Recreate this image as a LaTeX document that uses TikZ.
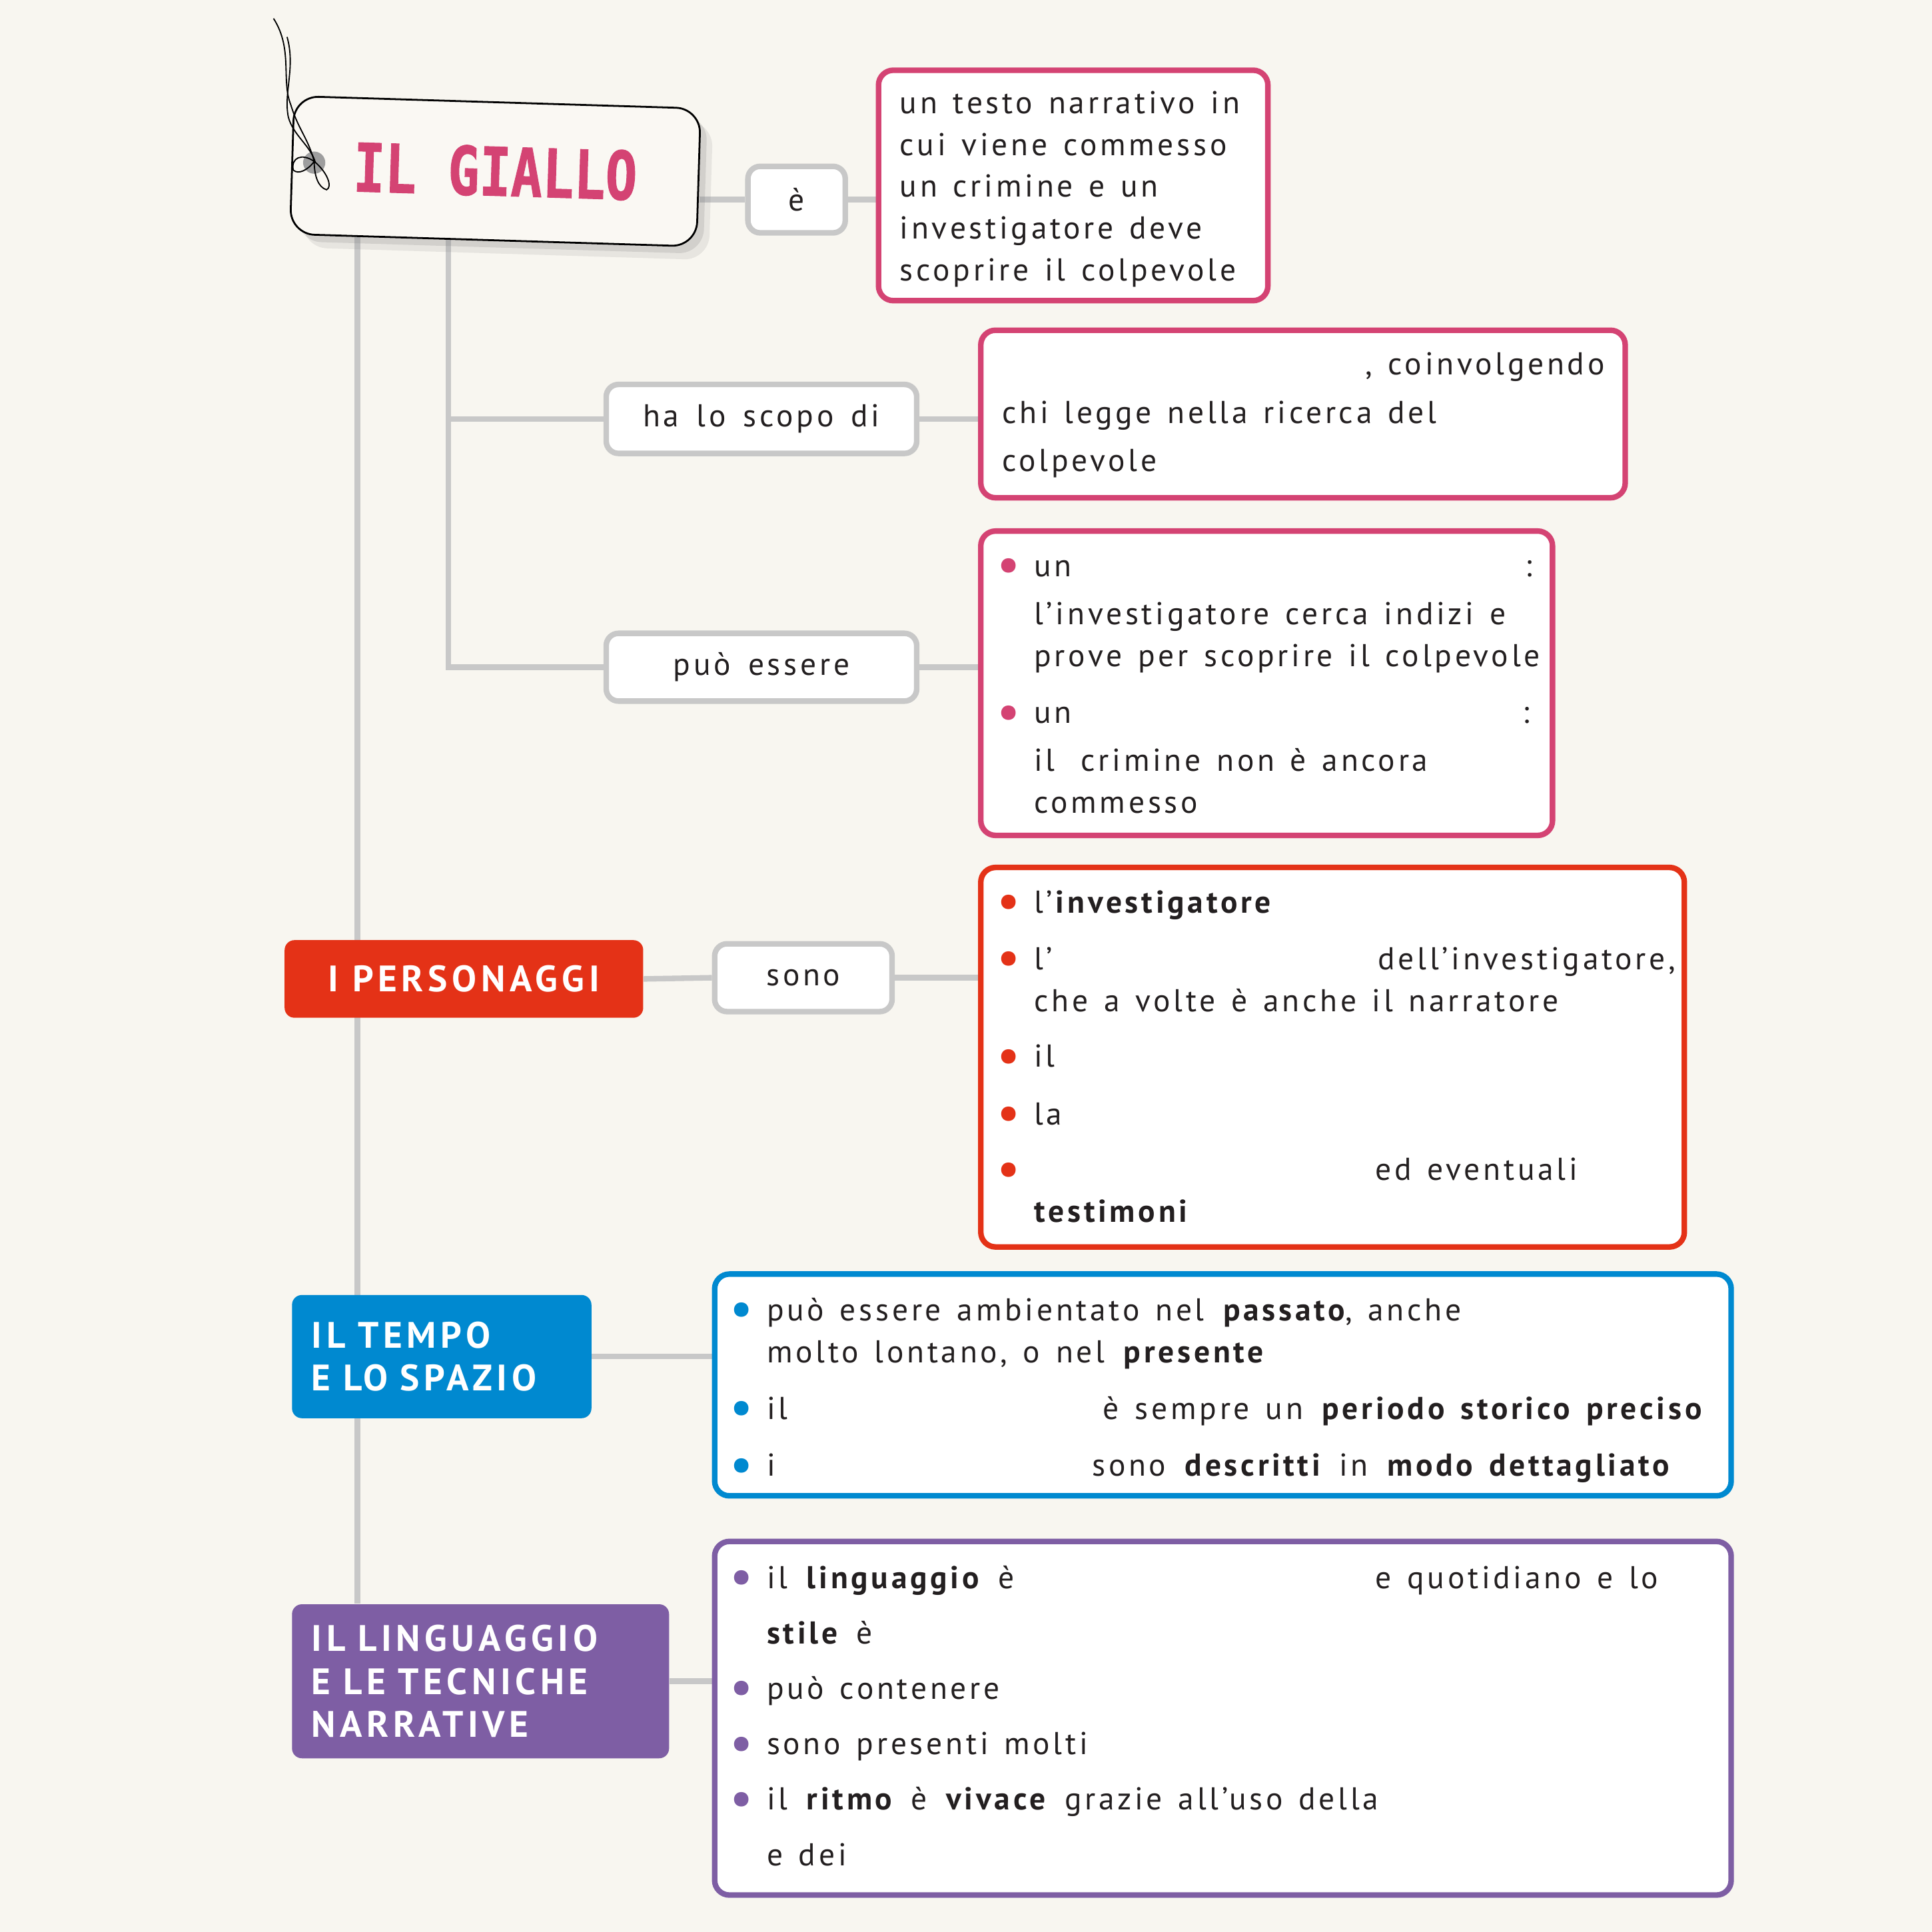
\documentclass[tikz,border=0pt]{standalone}
\usepackage{fontspec}
\setmainfont{PT Sans}[LetterSpace=10, WordSpace=1.5]
\newfontfamily\titlefont{PT Sans}[LetterSpace=12]
\newfontfamily\tagfont{DejaVu Sans Mono}[FakeStretch=0.78, FakeBold=1]
\usepackage{tikz}
\usetikzlibrary{shadows}

\definecolor{sfondo}{RGB}{248,246,240}
\definecolor{carta}{RGB}{250,248,243}
\definecolor{rosa}{RGB}{212,67,115}
\definecolor{rosso}{RGB}{228,50,23}
\definecolor{blu}{RGB}{0,137,208}
\definecolor{viola}{RGB}{126,94,164}
\definecolor{grigio}{RGB}{200,200,200}
\definecolor{nero}{RGB}{35,31,32}

\pgfdeclarelayer{sotto}
\pgfsetlayers{sotto,main}

\newcommand\punto[1]{\leavevmode\llap{\textcolor{#1}{\raisebox{-0.9mm}{\fontsize{24}{24}\selectfont\textbullet}}\hspace{2.2mm}}}

\tikzset{
  linea/.style={grigio, line width=0.9mm},
  cartellino/.style={draw=black, line width=0.3mm, fill=carta, rounded corners=4mm,
    drop shadow={opacity=0.14, shadow xshift=2mm, shadow yshift=-2.2mm},
    drop shadow={opacity=0.2, shadow xshift=1.1mm, shadow yshift=-1.2mm},
    text=rosa, font=\tagfont\bfseries\fontsize{31}{31}\selectfont},
  etichetta/.style={draw=grigio, fill=white, line width=0.9mm, rounded corners=2mm,
    inner sep=0pt, text=nero, font=\fontsize{14.6}{19.35}\selectfont},
  riquadro/.style={draw=#1, fill=white, line width=0.9mm, rounded corners=2.4mm, inner sep=0pt},
  titolo/.style={fill=#1, rounded corners=1.6mm, text=white, inner sep=0pt,
    font=\titlefont\bfseries\fontsize{17}{19.9}\selectfont},
  righe/.style={anchor=base west, text width=160mm, inner sep=0pt,
    text=nero, font=\fontsize{14.6}{19.35}\selectfont,
    execute at begin node={\spaceskip=0.5em plus 0.1em\relax\xspaceskip=\spaceskip}},
}

\begin{document}
\begin{tikzpicture}[x=0.2mm, y=-0.2mm]
\begin{pgfonlayer}{sotto}
\fill[sfondo] (0,0) rectangle (1568,1568);
\end{pgfonlayer}
\useasboundingbox (0,0) rectangle (1568,1568);

% il cartellino
\node[cartellino, rotate=-1.75, minimum width=66mm, minimum height=22.4mm] (giallo) at (402,139) {IL GIALLO};
\fill[black!38] (255,132) circle[radius=1.8mm];
\draw[black, line width=0.2mm] (222,15) .. controls (238,40) and (228,65) .. (236,85)
  .. controls (242,105) and (250,112) .. (255,131);
\draw[black, line width=0.2mm] (233,30) .. controls (240,55) and (230,75) .. (234,95)
  .. controls (238,110) and (252,118) .. (256,132);
\draw[black, line width=0.2mm] (255,131) .. controls (245,124) and (236,128) .. (238,138)
  .. controls (242,142) and (250,138) .. (255,131) .. controls (266,140) and (270,152) .. (265,154)
  .. controls (258,152) and (255,142) .. (255,131);

\node[etichetta, minimum width=15.8mm, minimum height=10.8mm] (e) at (646.5,162) {è};
\node[riquadro=rosa, minimum width=63.2mm, minimum height=37.4mm] (def) at (871,150.5) {};
\node[righe] (deftesto) at (730,92) {un testo narrativo in\\cui viene commesso\\un crimine e un\\investigatore deve\\scoprire il colpevole};

\node[etichetta, minimum width=50.4mm, minimum height=11.2mm] (ha) at (618,340) {ha lo scopo di};
\node[riquadro=rosa, minimum width=104.6mm, minimum height=27.2mm] (scopo) at (1057.5,336) {};
\node[righe] (scopotesto) at (813,304) {\makebox[97.8mm][r]{, coinvolgendo}\\[1.1mm]chi legge nella ricerca del\\[1mm]colpevole};

\node[etichetta, minimum width=50.4mm, minimum height=11mm] (puo) at (618,541.5) {può essere};
\node[riquadro=rosa, minimum width=92.8mm, minimum height=49.4mm] (tipi) at (1028,554.5) {};
\node[righe] (tipitesto) at (839,468) {\punto{rosa}\makebox[80.8mm][l]{un\hfill:}\\[1mm]l’investigatore cerca indizi e\\prove per scoprire il colpevole\\[2.4mm]\punto{rosa}\makebox[80.4mm][l]{un\hfill:}\\[1mm]\makebox[7.6mm][l]{il}crimine non è ancora\\commesso};

% personaggi
\node[titolo=rosso, minimum width=58.2mm, minimum height=12.6mm] (pers) at (376.5,794.5) {I PERSONAGGI};
\node[etichetta, minimum width=28.8mm, minimum height=11mm] (sono) at (652,793.5) {sono};
\node[riquadro=rosso, minimum width=114.2mm, minimum height=61.6mm] (chi) at (1081.5,858) {};
\node[righe] (chitesto) at (839,741) {\punto{rosso}l’\textbf{investigatore}\\[2.4mm]\punto{rosso}\makebox[55.8mm][l]{l’}dell’investigatore,\\che a volte è anche il narratore\\[2.2mm]\punto{rosso}il\\[2.6mm]\punto{rosso}la\\[2.2mm]\punto{rosso}\hspace*{55.4mm}ed eventuali\\\textbf{testimoni}};

% tempo e spazio
\node[titolo=blu, minimum height=20mm, text width=42.2mm, inner xsep=3.2mm, align=left] (tempo) at (358.5,1101) {IL TEMPO\\E LO SPAZIO};
\node[riquadro=blu, minimum width=165mm, minimum height=36mm] (dove) at (992.5,1124) {};
\node[righe] (dovetesto) at (622,1072) {\punto{blu}può essere ambientato nel \textbf{passato}, anche\\molto lontano, o nel \textbf{presente}\\[2.4mm]\punto{blu}\makebox[54.6mm][l]{il}è sempre un \textbf{periodo storico preciso}\\[2.4mm]\punto{blu}\makebox[52.8mm][l]{i}sono \textbf{descritti} in \textbf{modo dettagliato}};

% linguaggio
\node[titolo=viola, minimum height=25mm, text width=54.8mm, inner xsep=3.2mm, align=left,
  font=\titlefont\bfseries\fontsize{17}{19.9}\selectfont] (ling) at (390,1364.5) {IL LINGUAGGIO\\E LE TECNICHE\\NARRATIVE};
\node[riquadro=viola, minimum width=165mm, minimum height=57.4mm] (stile) at (992.5,1394.5) {};
\node[righe] (stiletesto) at (622,1289) {\punto{viola}\makebox[98.8mm][l]{il \textbf{linguaggio} è}e quotidiano e lo\\[2.2mm]\textbf{stile} è\\[2.2mm]\punto{viola}può contenere\\[2.2mm]\punto{viola}sono presenti molti\\[2.2mm]\punto{viola}il \textbf{ritmo} è \textbf{vivace} grazie all’uso della\\[2.2mm]e dei};

% collegamenti
\begin{pgfonlayer}{sotto}
\coordinate (asse) at (290,185);
\coordinate (ramo) at (364,185);
\draw[linea] (asse) -- (asse |- ling.north);
\draw[linea] (ramo) |- (puo.west);
\draw[linea] (ramo |- ha.west) -- (ha.west);
\draw[linea] (giallo.east |- e.west) -- (e.west);
\draw[linea] (e.east) -- (def.west |- e.east);
\draw[linea] (ha.east) -- (scopo.west |- ha.east);
\draw[linea] (puo.east) -- (tipi.west |- puo.east);
\draw[linea] (pers.east) -- (sono.west);
\draw[linea] (sono.east) -- (chi.west |- sono.east);
\draw[linea] (tempo.east) -- (dove.west |- tempo.east);
\draw[linea] (ling.east) -- (stile.west |- ling.east);
\end{pgfonlayer}
\end{tikzpicture}
\end{document}
